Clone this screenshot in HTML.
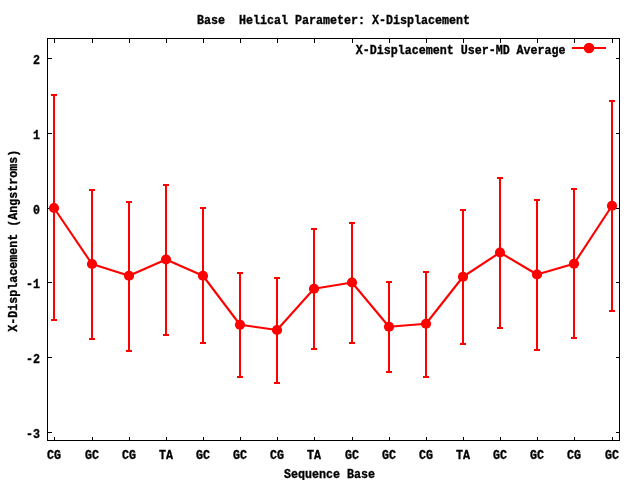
<!DOCTYPE html>
<html><head><meta charset="utf-8"><title>Base Helical Parameter: X-Displacement</title>
<style>
html,body{margin:0;padding:0;background:#fff;}
svg{display:block;}
text{font-family:"Liberation Mono",monospace;font-weight:bold;font-size:11.667px;fill:#000;stroke:#000;stroke-width:0.3px;}
</style></head><body>
<svg width="640" height="480" viewBox="0 0 640 480">
<rect width="640" height="480" fill="#fff"/>
<g stroke="#000" stroke-width="1" fill="none" shape-rendering="crispEdges">
<rect x="47.5" y="38.5" width="572.0" height="402.0"/>
<path d="M54.5 440.5v-4M54.5 38.5v4"/>
<path d="M92.5 440.5v-4M92.5 38.5v4"/>
<path d="M129.5 440.5v-4M129.5 38.5v4"/>
<path d="M166.5 440.5v-4M166.5 38.5v4"/>
<path d="M203.5 440.5v-4M203.5 38.5v4"/>
<path d="M240.5 440.5v-4M240.5 38.5v4"/>
<path d="M277.5 440.5v-4M277.5 38.5v4"/>
<path d="M314.5 440.5v-4M314.5 38.5v4"/>
<path d="M352.5 440.5v-4M352.5 38.5v4"/>
<path d="M389.5 440.5v-4M389.5 38.5v4"/>
<path d="M426.5 440.5v-4M426.5 38.5v4"/>
<path d="M463.5 440.5v-4M463.5 38.5v4"/>
<path d="M500.5 440.5v-4M500.5 38.5v4"/>
<path d="M537.5 440.5v-4M537.5 38.5v4"/>
<path d="M574.5 440.5v-4M574.5 38.5v4"/>
<path d="M612.5 440.5v-4M612.5 38.5v4"/>
<path d="M47.5 58.5h4M619.5 58.5h-4"/>
<path d="M47.5 133.5h4M619.5 133.5h-4"/>
<path d="M47.5 208.5h4M619.5 208.5h-4"/>
<path d="M47.5 282.5h4M619.5 282.5h-4"/>
<path d="M47.5 357.5h4M619.5 357.5h-4"/>
<path d="M47.5 432.5h4M619.5 432.5h-4"/>
</g>
<g stroke="#f00" fill="none">
<path stroke-width="2" d="M54 95V320"/>
<path stroke-width="2" d="M51 95h6M51 320h6"/>
<path stroke-width="2" d="M92 190V339"/>
<path stroke-width="2" d="M89 190h6M89 339h6"/>
<path stroke-width="2" d="M129 202V351"/>
<path stroke-width="2" d="M126 202h6M126 351h6"/>
<path stroke-width="2" d="M166 185V335"/>
<path stroke-width="2" d="M163 185h6M163 335h6"/>
<path stroke-width="2" d="M203 208V343"/>
<path stroke-width="2" d="M200 208h6M200 343h6"/>
<path stroke-width="2" d="M240 273V377"/>
<path stroke-width="2" d="M237 273h6M237 377h6"/>
<path stroke-width="2" d="M277 278V383"/>
<path stroke-width="2" d="M274 278h6M274 383h6"/>
<path stroke-width="2" d="M314 229V349"/>
<path stroke-width="2" d="M311 229h6M311 349h6"/>
<path stroke-width="2" d="M352 223V343"/>
<path stroke-width="2" d="M349 223h6M349 343h6"/>
<path stroke-width="2" d="M389 282V372"/>
<path stroke-width="2" d="M386 282h6M386 372h6"/>
<path stroke-width="2" d="M426 272V377"/>
<path stroke-width="2" d="M423 272h6M423 377h6"/>
<path stroke-width="2" d="M463 210V344"/>
<path stroke-width="2" d="M460 210h6M460 344h6"/>
<path stroke-width="2" d="M500 178V328"/>
<path stroke-width="2" d="M497 178h6M497 328h6"/>
<path stroke-width="2" d="M537 200V350"/>
<path stroke-width="2" d="M534 200h6M534 350h6"/>
<path stroke-width="2" d="M574 189V338"/>
<path stroke-width="2" d="M571 189h6M571 338h6"/>
<path stroke-width="2" d="M612 101V311"/>
<path stroke-width="2" d="M609 101h6M609 311h6"/>
<polyline stroke-width="2.1" stroke-linejoin="round" points="54,208 92,264 129,275.75 166,259.5 203,275.75 240,324.75 277,330 314,288.75 352,282.5 389,326.75 426,323.75 463,276.75 500,252.5 537,274.5 574,263.75 612,205.75"/>
<path stroke-width="2" d="M572 48H606"/>
</g>
<g fill="#f00">
<circle cx="54" cy="208" r="5.1"/>
<circle cx="92" cy="264" r="5.1"/>
<circle cx="129" cy="275.75" r="5.1"/>
<circle cx="166" cy="259.5" r="5.1"/>
<circle cx="203" cy="275.75" r="5.1"/>
<circle cx="240" cy="324.75" r="5.1"/>
<circle cx="277" cy="330" r="5.1"/>
<circle cx="314" cy="288.75" r="5.1"/>
<circle cx="352" cy="282.5" r="5.1"/>
<circle cx="389" cy="326.75" r="5.1"/>
<circle cx="426" cy="323.75" r="5.1"/>
<circle cx="463" cy="276.75" r="5.1"/>
<circle cx="500" cy="252.5" r="5.1"/>
<circle cx="537" cy="274.5" r="5.1"/>
<circle cx="574" cy="263.75" r="5.1"/>
<circle cx="612" cy="205.75" r="5.1"/>
<circle cx="589" cy="48" r="5.3"/>
</g>
<text transform="translate(333.5,23.5) scale(1,1.17)" text-anchor="middle" xml:space="preserve">Base  Helical Parameter: X-Displacement</text>
<text transform="translate(565.6,53.5) scale(1,1.17)" text-anchor="end" xml:space="preserve">X-Displacement User-MD Average</text>
<text transform="translate(54.0,458.5) scale(1,1.17)" text-anchor="middle" xml:space="preserve">CG</text>
<text transform="translate(92.0,458.5) scale(1,1.17)" text-anchor="middle" xml:space="preserve">GC</text>
<text transform="translate(129.0,458.5) scale(1,1.17)" text-anchor="middle" xml:space="preserve">CG</text>
<text transform="translate(166.0,458.5) scale(1,1.17)" text-anchor="middle" xml:space="preserve">TA</text>
<text transform="translate(203.0,458.5) scale(1,1.17)" text-anchor="middle" xml:space="preserve">GC</text>
<text transform="translate(240.0,458.5) scale(1,1.17)" text-anchor="middle" xml:space="preserve">GC</text>
<text transform="translate(277.0,458.5) scale(1,1.17)" text-anchor="middle" xml:space="preserve">CG</text>
<text transform="translate(314.0,458.5) scale(1,1.17)" text-anchor="middle" xml:space="preserve">TA</text>
<text transform="translate(352.0,458.5) scale(1,1.17)" text-anchor="middle" xml:space="preserve">GC</text>
<text transform="translate(389.0,458.5) scale(1,1.17)" text-anchor="middle" xml:space="preserve">GC</text>
<text transform="translate(426.0,458.5) scale(1,1.17)" text-anchor="middle" xml:space="preserve">CG</text>
<text transform="translate(463.0,458.5) scale(1,1.17)" text-anchor="middle" xml:space="preserve">TA</text>
<text transform="translate(500.0,458.5) scale(1,1.17)" text-anchor="middle" xml:space="preserve">GC</text>
<text transform="translate(537.0,458.5) scale(1,1.17)" text-anchor="middle" xml:space="preserve">GC</text>
<text transform="translate(574.0,458.5) scale(1,1.17)" text-anchor="middle" xml:space="preserve">CG</text>
<text transform="translate(612.0,458.5) scale(1,1.17)" text-anchor="middle" xml:space="preserve">GC</text>
<text transform="translate(329.5,477.5) scale(1,1.17)" text-anchor="middle" xml:space="preserve">Sequence Base</text>
<text transform="translate(40,64.0) scale(1,1.17)" text-anchor="end" xml:space="preserve">2</text>
<text transform="translate(40,139.0) scale(1,1.17)" text-anchor="end" xml:space="preserve">1</text>
<text transform="translate(40,214.0) scale(1,1.17)" text-anchor="end" xml:space="preserve">0</text>
<text transform="translate(40,288.0) scale(1,1.17)" text-anchor="end" xml:space="preserve">-1</text>
<text transform="translate(40,363.0) scale(1,1.17)" text-anchor="end" xml:space="preserve">-2</text>
<text transform="translate(40,438.0) scale(1,1.17)" text-anchor="end" xml:space="preserve">-3</text>
<text transform="translate(17,240.8) rotate(-90) scale(1,1.17)" text-anchor="middle" xml:space="preserve">X-Displacement (Angstroms)</text>
</svg>
</body></html>
